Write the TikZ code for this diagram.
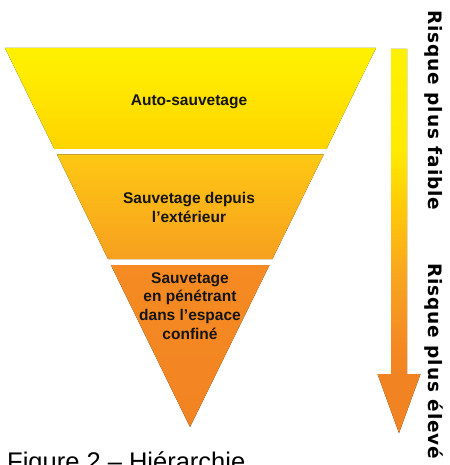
\documentclass[tikz,border=0pt]{standalone}
\usepackage{fontspec}
\setmainfont{Liberation Sans}
\newfontfamily\sidefont[LetterSpace=5]{DejaVu Sans}

% Palette: yellow (low risk) to orange (high risk)
\definecolor{rY1}{HTML}{FFF000}
\definecolor{rY2}{HTML}{FFEA00}
\definecolor{rY3}{HTML}{FFC60A}
\definecolor{rO3}{HTML}{F9A61E}
\definecolor{rO2}{HTML}{F58B22}
\definecolor{rOr}{HTML}{F28322}
\definecolor{tA1}{HTML}{FFF000}
\definecolor{tA2}{HTML}{FFEC00}
\definecolor{tA3}{HTML}{FFE200}
\definecolor{tA4}{HTML}{FFD400}
\definecolor{tB1}{HTML}{FEC813}
\definecolor{tB2}{HTML}{F7A01F}

% Shading of the risk arrow (bounding box maps to 25bp..75bp)
\pgfdeclareverticalshading{riskshade}{100bp}{color(0bp)=(rOr); color(25bp)=(rOr);
  color(32.7bp)=(rOr); color(37.1bp)=(rO2); color(45.8bp)=(rO3);
  color(53.6bp)=(rY3); color(61.8bp)=(rY2); color(75bp)=(rY1); color(100bp)=(rY1)}
% Shading of the top tier
\pgfdeclareverticalshading{tiershadeA}{100bp}{color(0bp)=(tA4); color(25bp)=(tA4);
  color(48bp)=(tA3); color(62bp)=(tA2); color(75bp)=(tA1); color(100bp)=(tA1)}

\begin{document}
\begin{tikzpicture}[x=1pt,y=-1pt,
  tierlabel/.style={font=\fontsize{15.5}{18.7}\selectfont\bfseries, align=center,
    inner sep=0pt, text=black!92},
  sidelabel/.style={font=\sidefont\fontsize{18.5}{21}\selectfont\bfseries, rotate=-90,
    anchor=west, inner sep=0pt},
]
\useasboundingbox (0,0) rectangle (449,465);

% Funnel tiers
\fill[shading=tiershadeA] (5,48) -- (376,48) -- (326.4,149) -- (54.3,149) -- cycle;
\fill[top color=tB1, bottom color=tB2] (57,154.5) -- (323.7,154.5) -- (272.4,259) -- (108,259) -- cycle;
\fill[top color=rO2, bottom color=rOr] (110.9,265) -- (269.5,265) -- (190,427) -- cycle;

\node[tierlabel] (tierA) at (189,102) {Auto-sauvetage};
\node[tierlabel] (tierB) at (189,207.5) {Sauvetage depuis\\l'extérieur};
\node[tierlabel] (tierC) at (190,306) {Sauvetage\\en pénétrant\\dans l'espace\\confiné};

% Risk arrow
\fill[shading=riskshade] (391,49) -- (407,49) -- (407,374) -- (420.5,374) -- (399,433)
  -- (377.5,374) -- (391,374) -- cycle;

\node[sidelabel] (low) at (434,10) {Risque plus faible};
\node[sidelabel] (high) at (434,263) {Risque plus élevé};

% Caption
\node[font=\fontsize{25.5}{28}\selectfont, anchor=base west, inner sep=0pt] (caption)
  at (7,470) {Figure 2 – Hiérarchie};
\end{tikzpicture}
\end{document}
